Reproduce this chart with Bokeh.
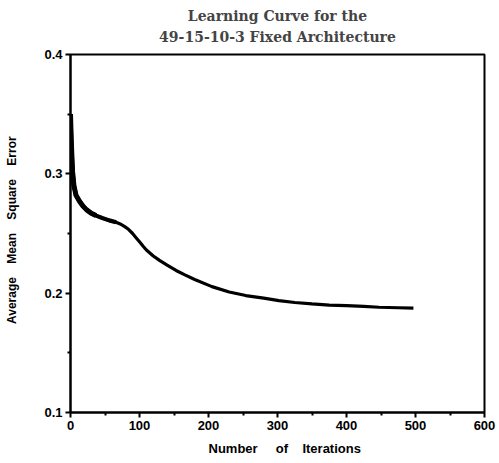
from bokeh.plotting import figure
from bokeh.models import FixedTicker, Range1d, Title
from bokeh.embed import file_html
from bokeh.resources import INLINE

iterations = [0, 1, 2, 3, 5, 8, 13, 18, 23, 30, 37, 46, 56, 66, 72, 78, 84, 90,
              95, 100, 105, 110, 120, 129, 140, 153, 165, 180, 205, 230, 254,
              280, 302, 325, 350, 375, 400, 425, 447, 475, 497]
avg_mse = [0.350, 0.330, 0.315, 0.302, 0.290, 0.282, 0.277, 0.273, 0.270, 0.267,
           0.265, 0.263, 0.261, 0.2595, 0.258, 0.256, 0.2535, 0.250, 0.2465,
           0.243, 0.2395, 0.2362, 0.2312, 0.2275, 0.2235, 0.219, 0.2155,
           0.2115, 0.2055, 0.201, 0.198, 0.1958, 0.1938, 0.1922, 0.191, 0.190,
           0.1896, 0.1889, 0.1882, 0.1878, 0.1874]

x_ticks = [0, 100, 200, 300, 400, 500, 600]
x_minor = [50, 150, 250, 350, 450, 550]
y_ticks = [0.1, 0.2, 0.3, 0.4]
y_minor = [0.15, 0.25, 0.35]

NB = "\u00a0"

p = figure(width=499, height=463, output_backend="svg", toolbar_location=None,
           x_range=Range1d(0, 600), y_range=Range1d(0.1, 0.4),
           min_border_left=70, min_border_right=15, min_border_top=54,
           min_border_bottom=51)

p.add_layout(Title(text="49-15-10-3 Fixed Architecture", align="center",
                   text_font="DejaVu Serif", text_font_size="14px",
                   text_font_style="bold", offset=-7, standoff=19), "above")
p.add_layout(Title(text="Learning Curve for the", align="center",
                   text_font="DejaVu Serif", text_font_size="14px",
                   text_font_style="bold", offset=-7, standoff=-12), "above")

p.line(iterations[:11], avg_mse[:11], line_color="black", line_width=5)
p.line(iterations[:14], avg_mse[:14], line_color="black", line_width=4.2)
p.line(iterations, avg_mse, line_color="black", line_width=3.2)

p.xgrid.visible = False
p.ygrid.visible = False
p.outline_line_color = "black"
p.outline_line_width = 2
p.background_fill_color = "white"
p.border_fill_color = "white"

p.xaxis.ticker = FixedTicker(ticks=x_ticks, minor_ticks=x_minor)
p.yaxis.ticker = FixedTicker(ticks=y_ticks, minor_ticks=y_minor)
p.yaxis.formatter.use_scientific = False

for ax in (p.xaxis[0], p.yaxis[0]):
    ax.axis_line_width = 2
    ax.axis_line_color = "black"
    ax.major_tick_line_width = 2
    ax.minor_tick_line_width = 2
    ax.major_tick_in = 0
    ax.major_tick_out = 5
    ax.minor_tick_in = 0
    ax.minor_tick_out = 3
    ax.major_label_text_font = "Liberation Sans"
    ax.major_label_text_font_size = "13px"
    ax.major_label_text_font_style = "bold"
    ax.major_label_text_color = "black"
    ax.axis_label_text_font = "Liberation Sans"
    ax.axis_label_text_font_style = "bold"
    ax.axis_label_text_color = "black"
    ax.major_label_standoff = 3

p.xaxis.axis_label_text_font_size = "13px"
p.yaxis.axis_label_text_font_size = "12px"
p.xaxis.axis_label = NB * 4 + "Number" + NB * 5 + "of" + NB * 4 + "Iterations"
p.yaxis.axis_label = (NB * 2 + "Average" + NB * 4 + "Mean" + NB * 4 + "Square"
                      + NB * 4 + "Error")
p.xaxis.axis_label_standoff = 8
p.yaxis.axis_label_standoff = 22

open("out.html", "w").write(file_html(p, INLINE))
